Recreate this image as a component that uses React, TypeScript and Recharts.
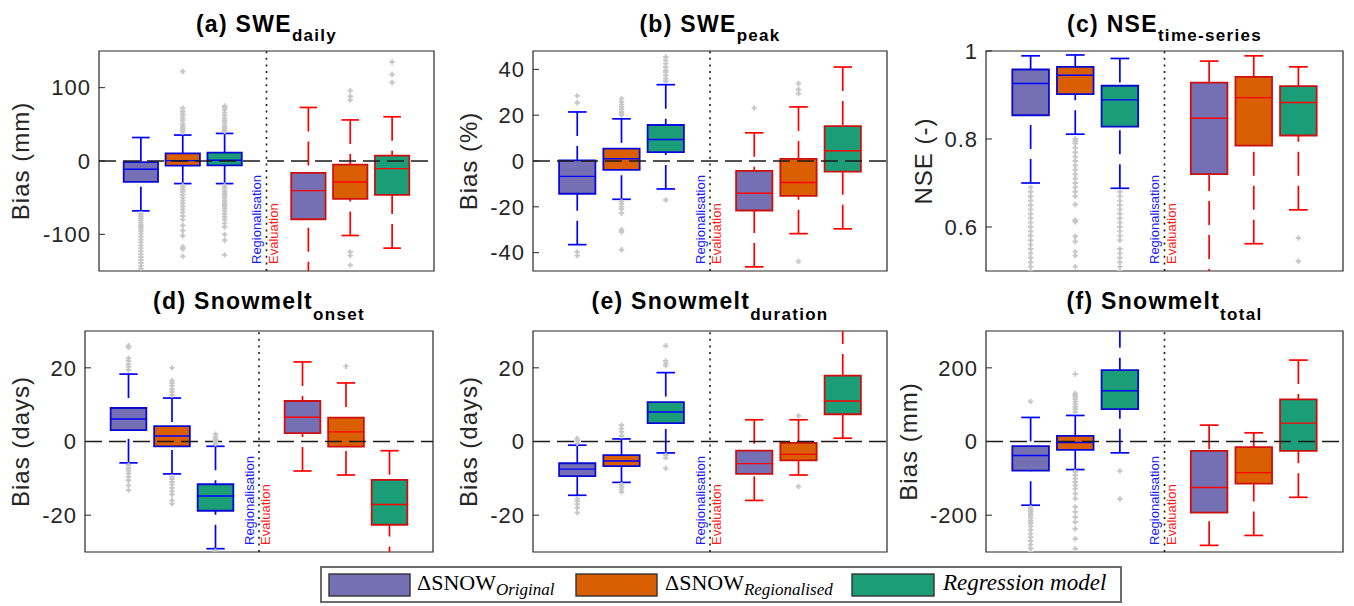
import React from "react"
import { ComposedChart, XAxis, YAxis, ReferenceArea, ReferenceLine, Scatter } from "recharts"

const SANS = "'Liberation Sans', Arial, Helvetica, sans-serif"
const SERIF = "'Liberation Serif', 'Times New Roman', serif"

// box order: Regionalisation (1-3), Evaluation (5-7)
const boxPositions = [1, 2, 3, 5, 6, 7]
const boxFills = ["#7570b3", "#d95f02", "#1b9e77", "#7570b3", "#d95f02", "#1b9e77"]

// each row: [lower whisker, q1, median, q3, upper whisker]
const sweDailyStats = [
  [-68, -28.6, -11.3, -1.4, 32],
  [-30.8, -6.3, 0.5, 10.4, 35.4],
  [-30.8, -5.9, 1, 11.3, 37.6],
  [-170, -79.4, -40.4, -16.3, 73],
  [-101.6, -51.7, -28.6, -5, 56],
  [-118.8, -46.3, -10.4, 7.3, 60.3],
]
const sweDailyOutliers = [
  [-72, -75, -78, -81, -84, -87, -90, -93, -96, -99, -103, -107, -111, -115, -119, -123, -127, -131, -135, -139, -143, -147],
  [122, 72, 68, 65, 62, 58, 55, 51, 48, 45, 42, 39, -33, -36, -39, -42, -46, -50, -54, -58, -62, -66, -70, -75, -80, -88, -95, -102, -117, -120, -130],
  [75, 73, 70, 66, 62, 58, 55, 52, 48, 45, 42, 40, -33, -36, -39, -42, -45, -48, -51, -54, -57, -60, -62, -65, -68, -72, -76, -80, -85, -90, -100, -108, -128],
  [],
  [96, 88, 83, -124, -129, -142],
  [135, 118, 107],
]
const sweDailyTicks = [-100, 0, 100]

const swePeakStats = [
  [-36.5, -14.3, -6.7, 0.3, 21.4],
  [-16.7, -3.9, 1.0, 5.4, 18.4],
  [-12.2, 3.9, 9.4, 15.7, 33.3],
  [-46.2, -21.6, -14.1, -4.3, 12.3],
  [-31.7, -15.2, -9.4, 0.9, 23.6],
  [-29.6, -4.6, 4.5, 15.2, 41],
]
const swePeakOutliers = [
  [28.4, 25.4, -39.7, -41.3],
  [27.2, 25.8, 24.6, 23.6, 22.6, 21.4, 20.7, 20, -17.7, -18.7, -19.9, -21, -22.8, -30, -31, -38.7],
  [45.4, 43.9, 42.5, 41, 39.5, 38.8, 37.4, 35.9, 34.8, -17],
  [23.2],
  [33.8, 31.2, 29.4, -43.8],
  [],
]
const swePeakTicks = [-40, -20, 0, 20, 40]

const nseStats = [
  [0.7, 0.854, 0.926, 0.958, 0.989],
  [0.811, 0.902, 0.945, 0.964, 0.991],
  [0.688, 0.828, 0.889, 0.921, 0.983],
  [0.45, 0.72, 0.847, 0.928, 0.977],
  [0.562, 0.785, 0.894, 0.941, 0.989],
  [0.639, 0.808, 0.883, 0.92, 0.964],
]
const nseOutliers = [
  [0.69, 0.68, 0.67, 0.66, 0.65, 0.64, 0.63, 0.62, 0.61, 0.6, 0.59, 0.58, 0.57, 0.56, 0.55, 0.54, 0.53, 0.52, 0.51, 0.5],
  [0.8, 0.795, 0.79, 0.78, 0.77, 0.76, 0.75, 0.74, 0.73, 0.72, 0.71, 0.7, 0.69, 0.68, 0.67, 0.651, 0.616, 0.612, 0.579, 0.567, 0.544, 0.535, 0.51],
  [0.68, 0.67, 0.66, 0.65, 0.64, 0.63, 0.62, 0.61, 0.6, 0.59, 0.58, 0.57, 0.55, 0.54, 0.53, 0.52, 0.51, 0.5],
  [],
  [],
  [0.575, 0.522],
]
const nseTicks = [0.6, 0.8, 1]

const onsetStats = [
  [-5.8, 3.1, 6.1, 9.1, 18.3],
  [-8.8, -1.3, 1.5, 4.2, 11.8],
  [-29.1, -18.8, -14.8, -11.6, -1.3],
  [-8, 2.3, 6.6, 11, 21.6],
  [-9.1, -1.4, 2.6, 6.5, 15.9],
  [-35, -22.6, -17.1, -10.4, -2.5],
]
const onsetOutliers = [
  [26, 25.5, 22.6, 21.9, 21, 20.3, 19.4, -6.4, -7.2, -7.9, -8.7, -9.6, -10.5, -11.9, -13.2],
  [20, 16.5, 15.8, 15.1, 14.2, 13.5, 12.6, -9.6, -10.2, -11, -11.7, -12.6, -13.5, -14.4, -16, -16.9],
  [2, 1.3, 0.6, -0.1, -0.7, -29.7],
  [],
  [20.4],
  [],
]
const onsetTicks = [-20, 0, 20]

const durationStats = [
  [-14.6, -9.4, -7.5, -5.9, -1],
  [-11.1, -6.7, -5.3, -3.7, 0.7],
  [-3.1, 5, 8, 10.7, 18.7],
  [-16, -8.8, -6, -2.5, 5.9],
  [-9.1, -5.1, -3.5, -0.4, 5.9],
  [0.9, 7.4, 11, 17.9, 33],
]
const durationOutliers = [
  [0.8, 0.2, -0.5, -15.5, -16.2, -17, -18, -19.3],
  [4.4, 3.5, 2.6, 1.5, -11.7, -12.3, -13, -13.7],
  [26, 21.9, 21.2, 20.6, -3.7, -4.4, -7.3],
  [],
  [7, -12.2],
  [],
]
const durationTicks = [-20, 0, 20]

const totalStats = [
  [-173, -78.9, -38, -12.7, 65.3],
  [-76.2, -22.7, -2.7, 15.4, 70.7],
  [-30.8, 88, 137.9, 194, 320],
  [-282, -193, -125, -25.4, 44.4],
  [-255, -114.3, -84.4, -15.4, 23.6],
  [-151.5, -25.4, 49.9, 114.3, 221],
]
const totalOutliers = [
  [108.8, -180, -185, -190, -196, -202, -208, -215, -222, -230, -240, -250, -260, -270, -280, -290, -300],
  [183, 130.6, 126, 121.5, 115, 108, 100.7, 94, 88, 80.7, -82.5, -91.6, -100.7, -110, -119, -128, -141.5, -155, -178, -191, -205, -218.6, -236.7, -264, -291],
  [-79.8, -156],
  [],
  [],
  [],
]
const totalTicks = [-200, 0, 200]

const panels = [
  { key: "a", title: "(a) SWE", sub: "daily", yLabel: "Bias (mm)", stats: sweDailyStats, outliers: sweDailyOutliers, ticks: sweDailyTicks, domain: [-150, 150], left: 99, top: 51, width: 335, height: 220, labelX: 29, zero: true },
  { key: "b", title: "(b) SWE", sub: "peak", yLabel: "Bias (%)", stats: swePeakStats, outliers: swePeakOutliers, ticks: swePeakTicks, domain: [-48, 48], left: 533, top: 51, width: 354, height: 220, labelX: 477, zero: true },
  { key: "c", title: "(c) NSE", sub: "time-series", yLabel: "NSE (-)", stats: nseStats, outliers: nseOutliers, ticks: nseTicks, domain: [0.5, 1], left: 986, top: 51, width: 357, height: 220, labelX: 932, zero: false },
  { key: "d", title: "(d) Snowmelt", sub: "onset", yLabel: "Bias (days)", stats: onsetStats, outliers: onsetOutliers, ticks: onsetTicks, domain: [-30, 30], left: 85, top: 331, width: 348, height: 221, labelX: 29, zero: true },
  { key: "e", title: "(e) Snowmelt", sub: "duration", yLabel: "Bias (days)", stats: durationStats, outliers: durationOutliers, ticks: durationTicks, domain: [-30, 30], left: 533, top: 331, width: 354, height: 221, labelX: 477, zero: true },
  { key: "f", title: "(f) Snowmelt", sub: "total", yLabel: "Bias (mm)", stats: totalStats, outliers: totalOutliers, ticks: totalTicks, domain: [-300, 300], left: 986, top: 331, width: 357, height: 221, labelX: 917, zero: true },
]

const HALF = 0.41
const CAP = 0.21
const PAD = 20

const dividerLabel = (props: any) => {
  const { x, y, height } = props.viewBox
  const bottom = y + height - 7
  return (
    <g fontFamily={SANS} fontSize={13}>
      <text transform={`translate(${x - 5.5},${bottom}) rotate(-90)`} fill="#1a1aff">Regionalisation</text>
      <text transform={`translate(${x + 11},${bottom}) rotate(-90)`} fill="#ff1a1a">Evaluation</text>
    </g>
  )
}

const plusShape = (props: any) => {
  const { cx, cy } = props
  return <path d={`M${cx - 2.7},${cy}h5.4M${cx},${cy - 2.7}v5.4`} stroke="#c6c6c6" strokeWidth={1.9} />
}

function BoxPanel({ p }: { p: any }) {
  const points = p.outliers.flatMap((vals: number[], i: number) => vals.map((v) => ({ x: boxPositions[i], y: v })))
  const marks: any[] = []
  p.stats.forEach(([lo, q1, med, q3, hi]: number[], i: number) => {
    const x = boxPositions[i]
    const reg = i < 3
    const edge = reg ? "#0a0ad2" : "#cc1010"
    const line = reg ? "#0000ff" : "#ff0000"
    marks.push(
      <ReferenceArea key={`box${i}`} x1={x - HALF} x2={x + HALF} y1={q1} y2={q3} fill={boxFills[i]} fillOpacity={1} stroke={edge} strokeWidth={1.8} ifOverflow="hidden" />
    )
    marks.push(
      <ReferenceLine key={`wu${i}`} segment={[{ x, y: hi }, { x, y: q3 }]} stroke={line} strokeWidth={1.7} strokeDasharray="24 10" ifOverflow="hidden" />,
      <ReferenceLine key={`wl${i}`} segment={[{ x, y: lo }, { x, y: q1 }]} stroke={line} strokeWidth={1.7} strokeDasharray="24 10" ifOverflow="hidden" />,
      <ReferenceLine key={`cu${i}`} segment={[{ x: x - CAP, y: hi }, { x: x + CAP, y: hi }]} stroke={line} strokeWidth={1.7} ifOverflow="hidden" />,
      <ReferenceLine key={`cl${i}`} segment={[{ x: x - CAP, y: lo }, { x: x + CAP, y: lo }]} stroke={line} strokeWidth={1.7} ifOverflow="hidden" />,
      <ReferenceLine key={`md${i}`} segment={[{ x: x - HALF, y: med }, { x: x + HALF, y: med }]} stroke={line} strokeWidth={1.4} ifOverflow="hidden" />
    )
  })

  return (
    <div style={{ position: "absolute", left: p.left - 70, top: p.top - PAD }}>
      <ComposedChart width={p.width + 80} height={p.height + 2 * PAD} margin={{ top: PAD, right: 9, bottom: PAD, left: 0 }}>
        <XAxis type="number" dataKey="x" domain={[0, 8]} allowDataOverflow hide />
        <YAxis
          type="number"
          dataKey="y"
          domain={p.domain}
          ticks={p.ticks}
          interval={0}
          allowDataOverflow
          width={70}
          axisLine={false}
          tickSize={-6}
          tickMargin={14}
          tickLine={{ stroke: "#262626" }}
          tick={{ fill: "#262626", fontSize: 22, fontFamily: SANS, letterSpacing: 1 }}
        />
        <YAxis
          yAxisId="r"
          orientation="right"
          type="number"
          domain={p.domain}
          ticks={p.ticks}
          interval={0}
          allowDataOverflow
          width={1}
          axisLine={false}
          tickSize={-6}
          tickLine={{ stroke: "#262626" }}
          tick={false}
        />
        {marks}
        {p.zero && <ReferenceLine y={0} stroke="#1a1a1a" strokeWidth={1.3} strokeDasharray="17 7" />}
        <ReferenceLine x={4} stroke="#1a1a1a" strokeWidth={1.6} strokeDasharray="2 4.6" label={dividerLabel} />
        <ReferenceArea x1={0} x2={8} y1={p.domain[0]} y2={p.domain[1]} fill="none" stroke="#262626" strokeWidth={1.2} />
        <Scatter data={points} shape={plusShape} isAnimationActive={false} />
      </ComposedChart>
    </div>
  )
}

function Overlay() {
  return (
    <svg width={1354} height={606} style={{ position: "absolute", left: 0, top: 0, pointerEvents: "none" }}>
      {panels.map((p, i) => {
        const row2 = i >= 3
        const base = row2 ? 309 : 31.7
        const cy = p.top + p.height / 2
        return (
          <g key={p.key}>
            <text x={p.left + p.width / 2} y={base} textAnchor="middle" fontFamily={SANS} fontWeight="bold" fontSize={23} letterSpacing={1.3} fill="#000">
              {p.title}
              <tspan fontSize={17} dy={row2 ? 11 : 9}>{p.sub}</tspan>
            </text>
            <text transform={`translate(${p.labelX},${cy}) rotate(-90)`} textAnchor="middle" fontFamily={SANS} fontSize={24} letterSpacing={1} fill="#262626">
              {p.yLabel}
            </text>
          </g>
        )
      })}
      <rect x={321} y={567} width={800} height={35} fill="#fff" stroke="#6b6b6b" strokeWidth={2} />
      <rect x={329} y={574} width={81} height={22} fill={boxFills[0]} stroke="#333" strokeWidth={1.4} />
      <text x={417} y={590} fontFamily={SERIF} fontSize={22} fill="#000">
        ΔSNOW<tspan fontStyle="italic" fontSize={17} dy={5}>Original</tspan>
      </text>
      <rect x={576} y={574} width={81} height={22} fill={boxFills[1]} stroke="#333" strokeWidth={1.4} />
      <text x={665} y={590} fontFamily={SERIF} fontSize={22} fill="#000">
        ΔSNOW<tspan fontStyle="italic" fontSize={17} dy={5}>Regionalised</tspan>
      </text>
      <rect x={852} y={574} width={82} height={22} fill={boxFills[2]} stroke="#333" strokeWidth={1.4} />
      <text x={943} y={590} fontFamily={SERIF} fontStyle="italic" fontSize={23} fill="#000">
        Regression model
      </text>
    </svg>
  )
}

export default function App() {
  return (
    <div style={{ position: "relative", width: 1354, height: 606, background: "#fff", overflow: "hidden" }}>
      <style>{"body{margin:0}"}</style>
      {panels.map((p) => (
        <BoxPanel key={p.key} p={p} />
      ))}
      <Overlay />
    </div>
  )
}
